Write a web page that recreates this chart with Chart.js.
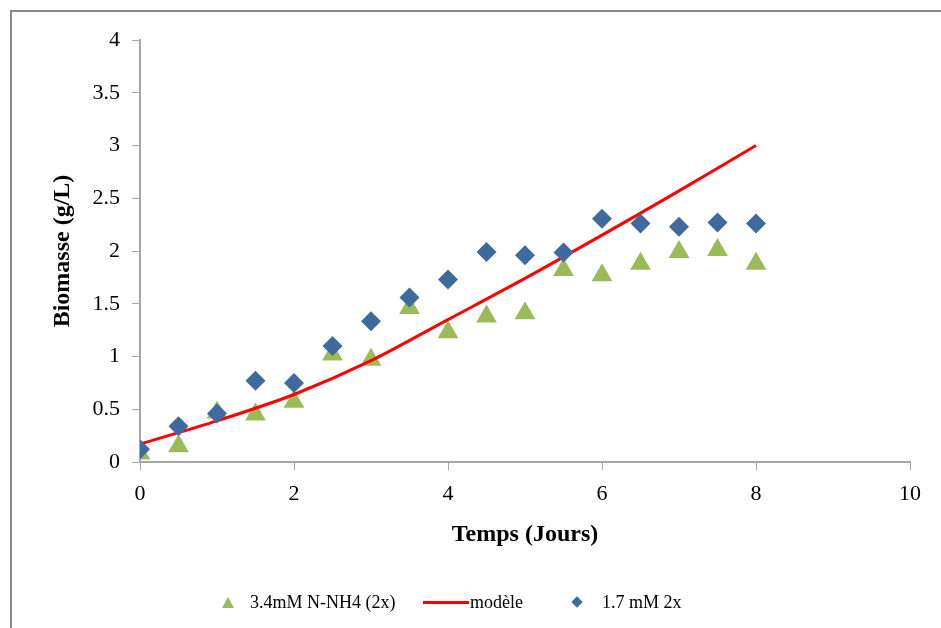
<!DOCTYPE html>
<html>
<head>
<meta charset="utf-8">
<script src="https://cdn.jsdelivr.net/npm/chart.js@4"></script>
<style>
  body { margin: 0; background: #fff; }
  #wrap { position: relative; width: 941px; height: 628px; overflow: hidden; }
  #frame { position: absolute; left: 10px; top: 10px; width: 1000px; height: 700px;
           border-left: 2px solid #8a8a8a; border-top: 2px solid #8a8a8a; }
  canvas { position: absolute; left: 0; top: 0; }
  .leg { position: absolute; top: 590px; font: 18px 'Liberation Serif', serif; color: #000; white-space: nowrap; line-height: 24px; }
  .tri { position: absolute; top: 597px; width: 0; height: 0;
         border-left: 6px solid transparent; border-right: 6px solid transparent; border-bottom: 11px solid #9BBB59; }
  .dia { position: absolute; top: 598px; width: 8px; height: 8px; background: #3F6A9E; transform: rotate(45deg); }
  .lin { position: absolute; top: 601px; height: 3px; background: #ff0000; }
</style>
</head>
<body>
<div id="wrap">
  <div id="frame"></div>
  <canvas id="chart" width="941" height="628"></canvas>
  <div class="tri" style="left:222px"></div>
  <span class="leg" style="left:250px">3.4mM N-NH4 (2x)</span>
  <div class="lin" style="left:423px;width:46px"></div>
  <span class="leg" style="left:470px">modèle</span>
  <div class="dia" style="left:573px"></div>
  <span class="leg" style="left:602px">1.7 mM 2x</span>
</div>
<script>
// Time (days) for the measured points
const days = [0, 0.5, 1, 1.5, 2, 2.5, 3, 3.5, 4, 4.5, 5, 5.5, 6, 6.5, 7, 7.5, 8];
// 3.4mM N-NH4 (2x) - green triangles
const nh4Values = [0.08, 0.15, 0.47, 0.45, 0.57, 1.02, 0.97, 1.46, 1.23, 1.38, 1.41, 1.82, 1.77, 1.88, 1.99, 2.01, 1.88];
// 1.7 mM 2x - blue diamonds
const mm17Values = [0.12, 0.34, 0.46, 0.77, 0.75, 1.10, 1.335, 1.56, 1.73, 1.99, 1.96, 1.985, 2.305, 2.26, 2.23, 2.27, 2.26];
// model curve
const modelDays = [0, 1, 2, 3, 4, 5, 6, 7, 8];
const modelValues = [0.17, 0.39, 0.64, 0.96, 1.35, 1.74, 2.15, 2.57, 3.0];

const toPoints = (xs, ys) => xs.map((x, i) => ({ x: x, y: ys[i] }));

const axisGrey = '#a6a6a6';
const serif = "'Liberation Serif', 'Times New Roman', serif";

new Chart(document.getElementById('chart'), {
    type: 'scatter',
    data: {
        datasets: [{
            label: '3.4mM N-NH4 (2x)',
            data: toPoints(days, nh4Values),
            pointStyle: 'triangle',
            pointRadius: 12,
            pointHoverRadius: 12,
            backgroundColor: '#9BBB59',
            borderColor: '#9BBB59',
            borderWidth: 0,
            order: 3
        }, {
            label: 'modèle',
            data: toPoints(modelDays, modelValues),
            showLine: true,
            pointRadius: 0,
            borderColor: '#ff0000',
            borderWidth: 3,
            tension: 0.3,
            order: 2
        }, {
            label: '1.7 mM 2x',
            data: toPoints(days, mm17Values),
            pointStyle: 'rectRot',
            pointRadius: 10,
            pointHoverRadius: 10,
            backgroundColor: '#3F6A9E',
            borderColor: '#3F6A9E',
            borderWidth: 0,
            order: 1
        }]
    },
    options: {
        responsive: false,
        animation: false,
        layout: {
            padding: { left: 0, top: 40, right: 31, bottom: 66 }
        },
        plugins: {
            legend: { display: false },
            tooltip: { enabled: false }
        },
        scales: {
            x: {
                type: 'linear',
                min: 0,
                max: 10,
                ticks: {
                    stepSize: 2,
                    color: '#000',
                    padding: 11,
                    font: { family: serif, size: 22 },
                    callback: v => String(v)
                },
                grid: {
                    drawOnChartArea: false,
                    tickLength: 8,
                    color: axisGrey
                },
                border: { color: axisGrey, width: 2 },
                title: {
                    display: true,
                    text: 'Temps (Jours)',
                    color: '#000',
                    font: { family: serif, size: 24, weight: 'bold' },
                    padding: { top: 0, bottom: 13 }
                },
                afterFit: function(scale) { scale.height = 100; }
            },
            y: {
                min: 0,
                max: 4,
                ticks: {
                    stepSize: 0.5,
                    color: '#000',
                    padding: 12,
                    font: { family: serif, size: 22 },
                    callback: v => String(v)
                },
                grid: {
                    drawOnChartArea: false,
                    tickLength: 8,
                    color: axisGrey
                },
                border: { color: axisGrey, width: 2 },
                title: {
                    display: true,
                    text: 'Biomasse (g/L)',
                    color: '#000',
                    font: { family: serif, size: 24, weight: 'bold' },
                    padding: { top: 48, bottom: 0 }
                },
                afterFit: function(scale) { scale.width = 140; }
            }
        }
    }
});
</script>
</body>
</html>
